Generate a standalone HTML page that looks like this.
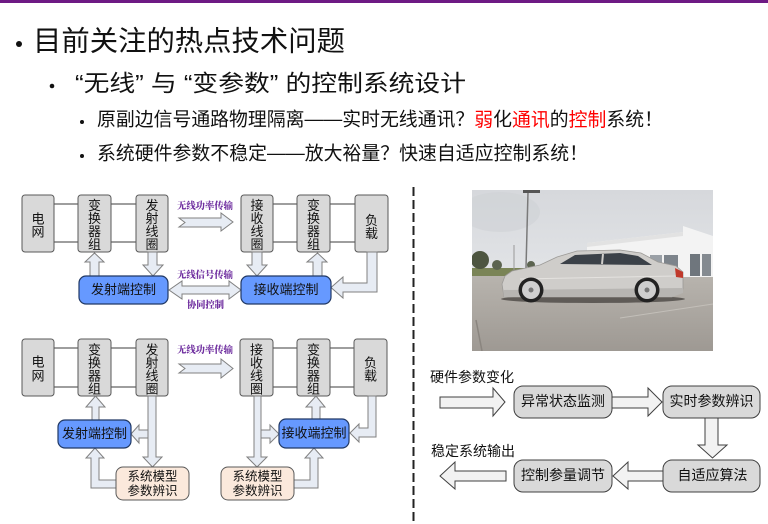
<!DOCTYPE html>
<html>
<head>
<meta charset="utf-8">
<style>
  html,body{margin:0;padding:0;background:#fff;}
  body{width:768px;height:524px;overflow:hidden;}
  svg{display:block;}
  .t{font-family:"Liberation Sans","Noto Sans CJK SC",sans-serif;fill:#111;}
  .p{font-family:"Noto Serif CJK SC","Liberation Serif",serif;font-weight:900;fill:#7030a0;font-size:9.5px;}
  .bx{fill:#d9d9d9;stroke:#595959;stroke-width:1;}
  .bl{fill:#6699ff;stroke:#203864;stroke-width:1.2;}
  .pk{fill:#fbe9dc;stroke:#595959;stroke-width:1;}
  .ar{fill:#e7ecf4;stroke:#808080;stroke-width:1;}
  .ln{stroke:#7f7f7f;stroke-width:1.5;}
  .rb{fill:#d9d9d9;stroke:#404040;stroke-width:1;}
  .ra{fill:#f2f2f2;stroke:#404040;stroke-width:1;}
</style>
</head>
<body>
<svg width="768" height="524" viewBox="0 0 768 524" xmlns="http://www.w3.org/2000/svg">
  <!-- top bar -->
  <rect x="0" y="0" width="768" height="3" fill="#6e1a84"/>

  <!-- headings -->
  <circle cx="19" cy="44" r="3" fill="#111"/>
  <text class="t" x="33" y="41" font-size="28" dominant-baseline="central" textLength="312" lengthAdjust="spacingAndGlyphs">目前关注的热点技术问题</text>

  <circle cx="52" cy="86" r="2.3" fill="#111"/>
  <text class="t" x="75" y="83" font-size="23" dominant-baseline="central" textLength="391" lengthAdjust="spacingAndGlyphs">“无线” 与 “变参数” 的控制系统设计</text>

  <circle cx="82" cy="122" r="2" fill="#111"/>
  <text class="t" x="97" y="120" font-size="19" dominant-baseline="central" textLength="566" lengthAdjust="spacingAndGlyphs">原副边信号通路物理隔离——实时无线通讯？<tspan fill="#ff0000">弱</tspan>化<tspan fill="#ff0000">通讯</tspan>的<tspan fill="#ff0000">控制</tspan>系统！</text>

  <circle cx="82" cy="156" r="2" fill="#111"/>
  <text class="t" x="97" y="154" font-size="19" dominant-baseline="central" textLength="491" lengthAdjust="spacingAndGlyphs">系统硬件参数不稳定——放大裕量？快速自适应控制系统！</text>

  <!-- dashed divider -->
  <line x1="413.5" y1="187" x2="413.5" y2="524" stroke="#222" stroke-width="2" stroke-dasharray="9 4"/>

  <!-- ============ Diagram 1 ============ -->
  <g>
    <line class="ln" x1="54" y1="204" x2="78" y2="204"/>
    <line class="ln" x1="54" y1="242" x2="78" y2="242"/>
    <line class="ln" x1="111" y1="204" x2="136" y2="204"/>
    <line class="ln" x1="111" y1="242" x2="136" y2="242"/>
    <line class="ln" x1="273" y1="204" x2="297" y2="204"/>
    <line class="ln" x1="273" y1="242" x2="297" y2="242"/>
    <line class="ln" x1="330" y1="204" x2="355" y2="204"/>
    <line class="ln" x1="330" y1="242" x2="355" y2="242"/>

    <rect class="bx" x="22" y="195" width="32" height="57" rx="3"/>
    <rect class="bx" x="78" y="195" width="33" height="57" rx="3"/>
    <rect class="bx" x="136" y="195" width="32" height="57" rx="3"/>
    <rect class="bx" x="241" y="195" width="32" height="57" rx="3"/>
    <rect class="bx" x="297" y="195" width="33" height="57" rx="3"/>
    <rect class="bx" x="355" y="195" width="33" height="57" rx="3"/>

    <g class="t" font-size="13" text-anchor="middle" dominant-baseline="central">
      <text x="38" y="219">电</text><text x="38" y="232">网</text>
      <text x="94.5" y="205.5">变</text><text x="94.5" y="218.5">换</text><text x="94.5" y="231.5">器</text><text x="94.5" y="244.5">组</text>
      <text x="152" y="205.5">发</text><text x="152" y="218.5">射</text><text x="152" y="231.5">线</text><text x="152" y="244.5">圈</text>
      <text x="257" y="205.5">接</text><text x="257" y="218.5">收</text><text x="257" y="231.5">线</text><text x="257" y="244.5">圈</text>
      <text x="313.5" y="205.5">变</text><text x="313.5" y="218.5">换</text><text x="313.5" y="231.5">器</text><text x="313.5" y="244.5">组</text>
      <text x="371.5" y="220.5">负</text><text x="371.5" y="233.5">载</text>
    </g>

    <!-- arrows -->
    <polygon class="ar" points="90,276 90,262 85,262 94.5,253 104,262 99,262 99,276"/>
    <polygon class="ar" points="148,252 157,252 157,265 163,265 153,276 143,265 148,265"/>
    <polygon class="ar" points="252,252 262,252 262,265 267,265 257,276 247,265 252,265"/>
    <polygon class="ar" points="313,276 313,262 307,262 317.5,253 327,262 322,262 322,276"/>
    <polygon class="ar" points="367,252 377,252 377,292 343,292 343,298 331,287.5 343,277 343,283 367,283"/>
    <polygon class="ar" points="169,290 182,281 182,286 229,286 229,281 241,290 229,299 229,294 182,294 182,299"/>
    <polygon class="ar" points="179,218 221,218 221,213 233,222 221,231 221,227 179,227 185,222.5"/>

    <rect class="bl" x="79" y="276" width="89" height="28" rx="7"/>
    <rect class="bl" x="241" y="276" width="90" height="28" rx="7"/>
    <g class="t" font-size="13" text-anchor="middle" dominant-baseline="central">
      <text x="123.5" y="289.5">发射端控制</text>
      <text x="286" y="289.5">接收端控制</text>
    </g>

    <text class="p" x="177" y="205" dominant-baseline="central" textLength="56" lengthAdjust="spacingAndGlyphs">无线功率传输</text>
    <text class="p" x="177" y="274" dominant-baseline="central" textLength="56" lengthAdjust="spacingAndGlyphs">无线信号传输</text>
    <text class="p" x="187" y="304" dominant-baseline="central" textLength="37" lengthAdjust="spacingAndGlyphs">协同控制</text>
  </g>

  <!-- ============ Diagram 2 ============ -->
  <g>
    <line class="ln" x1="54" y1="348" x2="78" y2="348"/>
    <line class="ln" x1="54" y1="387" x2="78" y2="387"/>
    <line class="ln" x1="111" y1="348" x2="136" y2="348"/>
    <line class="ln" x1="111" y1="387" x2="136" y2="387"/>
    <line class="ln" x1="273" y1="348" x2="297" y2="348"/>
    <line class="ln" x1="273" y1="387" x2="297" y2="387"/>
    <line class="ln" x1="330" y1="348" x2="354" y2="348"/>
    <line class="ln" x1="330" y1="387" x2="354" y2="387"/>

    <rect class="bx" x="22" y="339" width="32" height="57" rx="3"/>
    <rect class="bx" x="78" y="339" width="33" height="57" rx="3"/>
    <rect class="bx" x="136" y="339" width="32" height="57" rx="3"/>
    <rect class="bx" x="240" y="339" width="33" height="57" rx="3"/>
    <rect class="bx" x="297" y="339" width="33" height="57" rx="3"/>
    <rect class="bx" x="354" y="339" width="33" height="57" rx="3"/>

    <g class="t" font-size="13" text-anchor="middle" dominant-baseline="central">
      <text x="38" y="362">电</text><text x="38" y="376">网</text>
      <text x="94.5" y="350">变</text><text x="94.5" y="363">换</text><text x="94.5" y="376">器</text><text x="94.5" y="389">组</text>
      <text x="152" y="350">发</text><text x="152" y="363">射</text><text x="152" y="376">线</text><text x="152" y="389">圈</text>
      <text x="256.5" y="350">接</text><text x="256.5" y="363">收</text><text x="256.5" y="376">线</text><text x="256.5" y="389">圈</text>
      <text x="313.5" y="350">变</text><text x="313.5" y="363">换</text><text x="313.5" y="376">器</text><text x="313.5" y="389">组</text>
      <text x="370.5" y="363">负</text><text x="370.5" y="376">载</text>
    </g>

    <text class="p" x="177" y="349" dominant-baseline="central" textLength="56" lengthAdjust="spacingAndGlyphs">无线功率传输</text>
    <polygon class="ar" points="179,364 221,364 221,359 233,368.5 221,378 221,373 179,373 185,368.5"/>

    <!-- left side arrows -->
    <polygon class="ar" points="92,420 92,407 86,407 95.5,396 105,407 99,407 99,420"/>
    <polygon class="ar" points="148,430 139,430 139,425 131,434 139,443 139,438 148,438"/>
    <polygon class="ar" points="148,396 156,396 156,457 162,457 152.5,467 143,457 148,457"/>
    <polygon class="ar" points="116,480 99,480 99,458 104,458 95,448 86,458 91,458 91,488 116,488"/>

    <!-- right side arrows -->
    <polygon class="ar" points="261,430 270,430 270,425 279,434 270,443 270,438 261,438"/>
    <polygon class="ar" points="254,396 261,396 261,457 267,457 257,467 247,457 254,457"/>
    <polygon class="ar" points="312,419 312,407 306,407 316,396 325,407 320,407 320,419"/>
    <polygon class="ar" points="368,396 376,396 376,437 359,437 359,442 350,433 359,424 359,428 368,428"/>
    <polygon class="ar" points="294,480 310,480 310,458 305,458 314,448 323,458 318,458 318,488 294,488"/>

    <rect class="bl" x="58" y="420" width="73" height="28" rx="7"/>
    <rect class="bl" x="279" y="419" width="70" height="29" rx="7"/>
    <rect class="pk" x="116" y="467" width="73" height="33" rx="7"/>
    <rect class="pk" x="221" y="467" width="73" height="33" rx="7"/>

    <g class="t" font-size="13" text-anchor="middle" dominant-baseline="central">
      <text x="94.5" y="433.5">发射端控制</text>
      <text x="314" y="433">接收端控制</text>
      <text x="152.5" y="476.5" font-size="12.5">系统模型</text>
      <text x="152.5" y="491" font-size="12.5">参数辨识</text>
      <text x="257.5" y="476.5" font-size="12.5">系统模型</text>
      <text x="257.5" y="491" font-size="12.5">参数辨识</text>
    </g>
  </g>

  <!-- ============ Photo ============ -->
  <defs>
    <linearGradient id="sky" x1="0" y1="0" x2="0" y2="1">
      <stop offset="0" stop-color="#d6d8dc"/>
      <stop offset="1" stop-color="#eceef0"/>
    </linearGradient>
    <linearGradient id="gnd" x1="0" y1="0" x2="0" y2="1">
      <stop offset="0" stop-color="#b9b5af"/>
      <stop offset="1" stop-color="#9e9993"/>
    </linearGradient>
    <clipPath id="pc"><rect x="472" y="190" width="241" height="161"/></clipPath>
  </defs>
  <g clip-path="url(#pc)">
    <rect x="472" y="190" width="241" height="161" fill="url(#sky)"/>
    <ellipse cx="500" cy="212" rx="40" ry="20" fill="#cfd2d6" opacity="0.6"/>
    <rect x="472" y="272" width="241" height="79" fill="url(#gnd)"/>
    <rect x="472" y="268" width="80" height="8" fill="#7a8456"/>
    <circle cx="480" cy="260" r="9" fill="#4d5540"/>
    <circle cx="497" cy="265" r="5" fill="#5c6450"/>
    <circle cx="531" cy="265" r="4" fill="#5c6450"/>
    <!-- building -->
    <polygon points="587,243 683,232 683,226 713,236 713,277 587,277" fill="#f3f3f3"/>
    <polygon points="587,243 683,232 683,236 587,247" fill="#e2e2e2"/>
    <rect x="650" y="255" width="12" height="21" fill="#9aa0a6"/>
    <rect x="664" y="255" width="14" height="21" fill="#7d848b"/>
    <rect x="690" y="254" width="10" height="22" fill="#6f767d"/>
    <rect x="702" y="254" width="9" height="22" fill="#848a90"/>
    <!-- pole -->
    <line x1="528" y1="192" x2="526" y2="268" stroke="#7a7a7a" stroke-width="1.5"/>
    <rect x="523" y="190" width="17" height="3" fill="#555"/>
    <line x1="514" y1="245" x2="514" y2="270" stroke="#999" stroke-width="1"/>
    <!-- car shadow -->
    <ellipse cx="593" cy="299" rx="92" ry="4" fill="#5f5b57"/>
    <!-- car body -->
    <path d="M504,297 L502,284 L505,276 L512,271 L540,265 L557,257 L577,251 L620,250 L641,253 L658,262 L676,266 L683,272 L683,289 L672,297 Z" fill="#cfcdca" stroke="#9c9a97" stroke-width="0.8"/>
    <path d="M503,290 L683,288 L683,293 L672,297 L504,297 Z" fill="#b7b5b2"/>
    <polygon points="560,264 575,255 620,253 638,256 652,265" fill="#3b4148"/>
    <line x1="603" y1="254" x2="602" y2="264" stroke="#cfcdca" stroke-width="2"/>
    <line x1="520" y1="279" x2="676" y2="276" stroke="#e4e2df" stroke-width="1"/>
    <polygon points="675,268 683,272 683,278 676,277" fill="#c0392b"/>
    <!-- wheels -->
    <circle cx="531" cy="290" r="12.5" fill="#222"/>
    <circle cx="531" cy="290" r="9" fill="#cfcfcf"/>
    <circle cx="531" cy="290" r="2.5" fill="#777"/>
    <circle cx="647" cy="290" r="12.5" fill="#222"/>
    <circle cx="647" cy="290" r="9" fill="#cfcfcf"/>
    <circle cx="647" cy="290" r="2.5" fill="#777"/>
    <line x1="620" y1="318" x2="713" y2="304" stroke="#c3bfb9" stroke-width="1"/>
    <line x1="476" y1="320" x2="482" y2="351" stroke="#8a857f" stroke-width="1.5"/>
  </g>

  <!-- ============ Right flow ============ -->
  <g>
    <text class="t" x="430" y="377" font-size="14" dominant-baseline="central">硬件参数变化</text>
    <text class="t" x="431" y="451" font-size="14" dominant-baseline="central">稳定系统输出</text>

    <polygon class="ra" points="440,397 493,397 493,388 505,402 493,416 493,408 440,408"/>
    <polygon class="ra" points="612,397 648,397 648,388 662,402 648,416 648,408 612,408"/>
    <polygon class="ra" points="705,418 718,418 718,445 727,445 712.5,458 698,445 705,445"/>
    <polygon class="ra" points="663,471 628,471 628,462 613,476 628,489 628,481 663,481"/>
    <polygon class="ra" points="506,471 455,471 455,462 440,476 455,489 455,481 506,481"/>

    <rect class="rb" x="514" y="386" width="98" height="32" rx="9"/>
    <rect class="rb" x="663" y="386" width="97" height="32" rx="9"/>
    <rect class="rb" x="663" y="460" width="97" height="32" rx="9"/>
    <rect class="rb" x="514" y="460" width="98" height="32" rx="9"/>

    <g class="t" font-size="14" text-anchor="middle" dominant-baseline="central">
      <text x="563" y="401">异常状态监测</text>
      <text x="711.5" y="401">实时参数辨识</text>
      <text x="712.5" y="475">自适应算法</text>
      <text x="563" y="475">控制参量调节</text>
    </g>
  </g>
</svg>
</body>
</html>
